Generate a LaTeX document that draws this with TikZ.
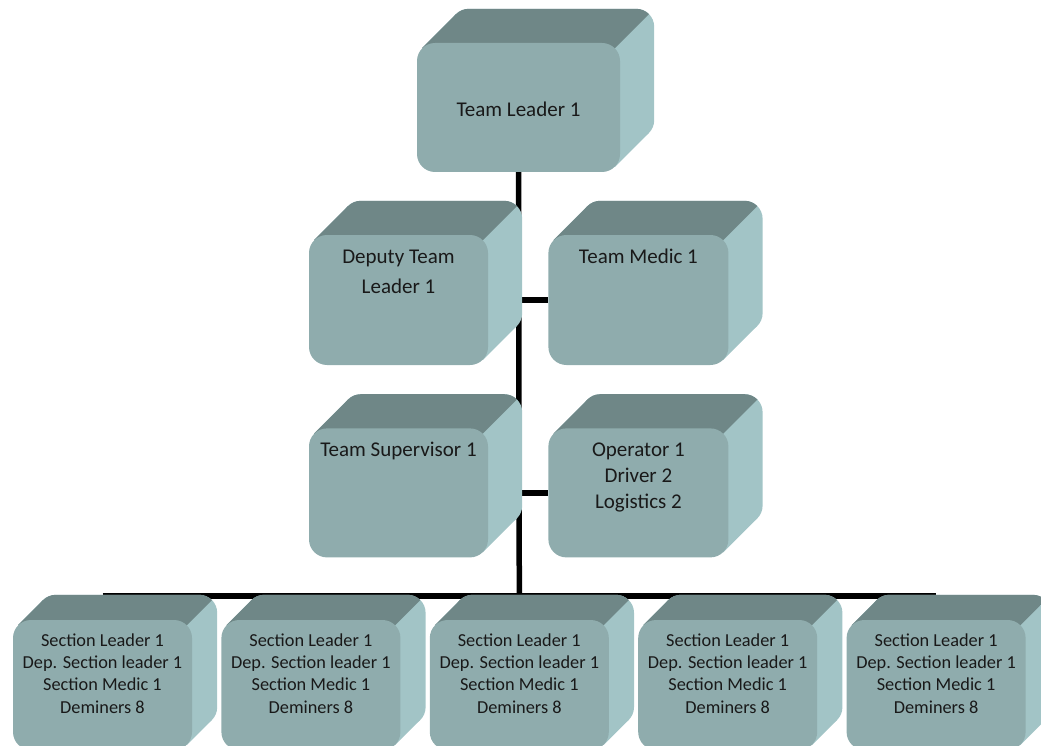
\documentclass[tikz,border=0pt]{standalone}
\usepackage{fontspec}
\setmainfont{Carlito}
\usetikzlibrary{positioning,calc}
\definecolor{cubefront}{RGB}{143,172,173}
\definecolor{cubetop}{RGB}{111,135,135}
\definecolor{cubeside}{RGB}{162,196,198}
\pgfdeclarelayer{lines}
\pgfdeclarelayer{faces}
\pgfsetlayers{lines,faces,main}
\tikzset{
  cube/.style = {fill=cubefront, rounded corners=18pt, inner sep=0pt, text=black!90,
                 font=\fontsize{21}{25.6}\selectfont},
  small cube/.style = {cube, font=\fontsize{18.3}{22.4}\selectfont},
  link/.style = {line width=5.5pt, black}
}
% front face text: width, height, top aligned
\newcommand{\cubetext}[4][10.5pt]{\parbox[c][#3][t]{#2}{\centering\vspace*{#1}\strut#4}}
\newcommand{\crewtext}{\cubetext{179pt}{130pt}{Section Leader 1\\Dep. Section leader 1\\Section Medic 1\\Deminers 8}}
% top and side faces behind a front node
\newcommand{\cubefaces}[2]{%
  \path[fill=cubeside] ($(#1.north west)+(5.3,-5.3)$) -- ++(#2,#2)
    -- ($(#1.south east)+(#2,#2)+(-5.3,5.3)$) -- ($(#1.south east)+(-5.3,5.3)$) -- cycle;
  \path[fill=cubeside, rounded corners=18pt] ($(#1.south west)+(#2,#2)$) rectangle ($(#1.north east)+(#2,#2)$);
  \begin{scope}
    \clip ($(#1.north east)+(-400,-400)$) -- ($(#1.north east)+(400,400)$) -- ($(#1.north east)+(-400,400)$) -- cycle;
    \path[fill=cubetop] ($(#1.north west)+(5.3,-5.3)$) -- ++(#2,#2)
      -- ($(#1.south east)+(#2,#2)+(-5.3,5.3)$) -- ($(#1.south east)+(-5.3,5.3)$) -- cycle;
    \path[fill=cubetop, rounded corners=18pt] ($(#1.south west)+(#2,#2)$) rectangle ($(#1.north east)+(#2,#2)$);
  \end{scope}}

\begin{document}
\begin{tikzpicture}[x=1pt,y=1pt]
  \useasboundingbox (0,0) rectangle (1041,-746);
  \node[cube] (lead) at (518.5,-107.5) {\cubetext[56pt]{203pt}{129pt}{Team Leader 1}};
  \node[cube] (dep) at (398.5,-300) {\cubetext{179pt}{130pt}{Deputy Team\\[4pt]Leader 1}};
  \node[cube, right=60pt of dep] (medic) {\cubetext{180pt}{130pt}{Team Medic 1}};
  \node[cube, below=63pt of dep] (sup) {\cubetext{179pt}{129pt}{Team Supervisor 1}};
  \node[cube, right=60pt of sup] (oper) {\cubetext{180pt}{129pt}{Operator 1\\Driver 2\\Logistics 2}};
  \node[small cube] (s1) at (102.5,-685) {\crewtext};
  \node[small cube, right=29pt of s1] (s2) {\crewtext};
  \node[small cube, right=29pt of s2] (s3) {\crewtext};
  \node[small cube, right=29pt of s3] (s4) {\crewtext};
  \node[small cube, right=29pt of s4] (s5) {\crewtext};

  \begin{pgfonlayer}{faces}
    \cubefaces{lead}{34}
    \cubefaces{dep}{34}
    \cubefaces{medic}{34}
    \cubefaces{sup}{34}
    \cubefaces{oper}{34}
    \cubefaces{s1}{25}
    \cubefaces{s2}{25}
    \cubefaces{s3}{25}
    \cubefaces{s4}{25}
    \cubefaces{s5}{25}
  \end{pgfonlayer}

  \begin{pgfonlayer}{lines}
    \coordinate (bus) at ([yshift=24pt]s3.north);
    \draw[link] (lead.south) -- (bus);
    \draw[link] (medic.west) -- (medic.west -| lead.south);
    \draw[link] (oper.west) -- (oper.west -| lead.south);
    \draw[link] ([yshift=24pt]s1.north) -- ([yshift=24pt]s5.north);
  \end{pgfonlayer}
\end{tikzpicture}
\end{document}
